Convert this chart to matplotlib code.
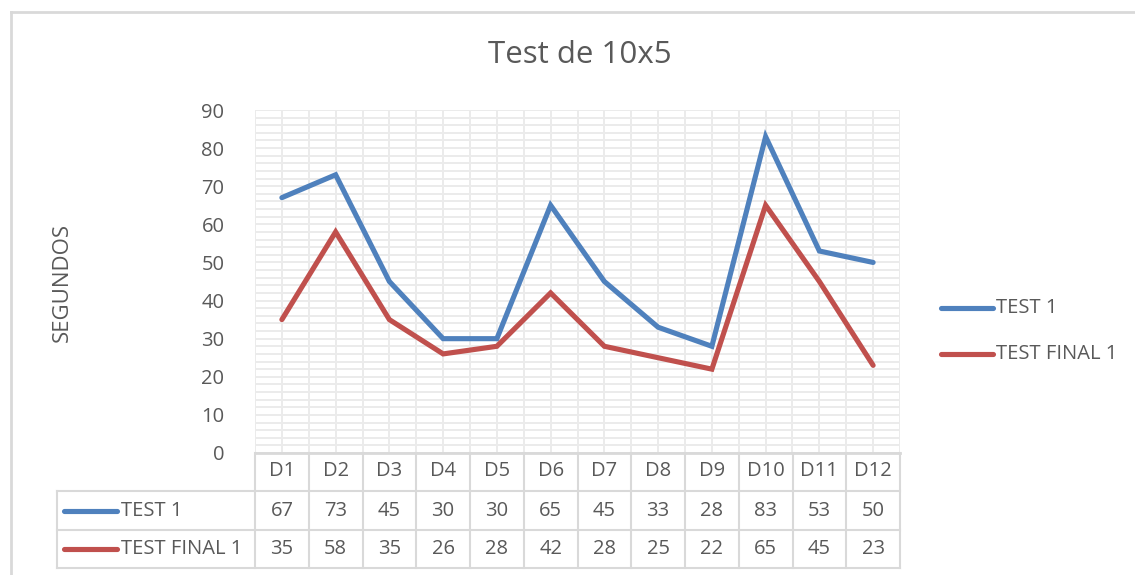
import matplotlib.pyplot as plt
import numpy as np
from matplotlib.lines import Line2D

plt.rcParams['font.family'] = ['Open Sans', 'DejaVu Sans']

categories = ['D1', 'D2', 'D3', 'D4', 'D5', 'D6', 'D7', 'D8', 'D9', 'D10', 'D11', 'D12']
test_1 = [67, 73, 45, 30, 30, 65, 45, 33, 28, 83, 53, 50]
test_final_1 = [35, 58, 35, 26, 28, 42, 28, 25, 22, 65, 45, 23]
series_names = ['TEST 1', 'TEST FINAL 1']
y_ticks = list(range(0, 100, 10))

BLUE = '#4F81BD'
RED = '#C0504D'
TXT = '#595959'
GRID = '#EBEBEB'
BORDER = '#D9D9D9'
FS = 14.5

W, H = 1135, 575
fig = plt.figure(figsize=(W / 100, H / 100), dpi=100)

def fx(px):
    return px / W

def fy(py):
    return 1 - py / H

# plot area in pixels
L, R, T, B = 255, 900, 110, 453
ax = fig.add_axes([fx(L), fy(B), fx(R) - fx(L), fy(T) - fy(B)])
n = len(categories)
x = np.arange(n)
ax.set_xlim(-0.5, n - 0.5)
ax.set_ylim(0, 90)

# gridlines (major + minor)
for v in np.arange(0, 90.1, 2):
    ax.axhline(v, color=GRID, lw=1.4, zorder=0)
for v in np.arange(-0.5, n - 0.4, 0.5):
    ax.axvline(v, color=GRID, lw=1.4, zorder=0)

ax.plot(x, test_1, color=BLUE, lw=3.7, solid_capstyle='round', solid_joinstyle='miter', zorder=3)
ax.plot(x, test_final_1, color=RED, lw=3.7, solid_capstyle='round', solid_joinstyle='miter', zorder=3)

ax.set_yticks(y_ticks)
ax.set_yticklabels([str(v) for v in y_ticks], fontsize=FS, color=TXT)
ax.tick_params(axis='y', length=0, pad=22)
ax.set_xticks([])
for s in ax.spines.values():
    s.set_visible(False)

# title and axis label
fig.text(fx(580), fy(55), 'Test de 10x5', ha='center', va='center', fontsize=22.5, color=TXT)
fig.text(fx(62), fy(282), 'SEGUNDOS', ha='center', va='center', rotation=90, fontsize=16, color=TXT)

# data table below the plot
cw = (R - L) / n
rows_y = [453, 491, 530, 568]
tl = 57
lines = []
lines.append(Line2D([fx(L), fx(R)], [fy(453), fy(453)], color=BORDER, lw=2))
for ry in rows_y[1:]:
    lines.append(Line2D([fx(tl), fx(R)], [fy(ry), fy(ry)], color=BORDER, lw=1.5))
lines.append(Line2D([fx(tl), fx(tl)], [fy(491), fy(568)], color=BORDER, lw=1.5))
for i in range(n + 1):
    xp = L + i * cw
    lines.append(Line2D([fx(xp), fx(xp)], [fy(453), fy(568)], color=BORDER, lw=1.5))
for ln in lines:
    fig.add_artist(ln)

for i, c in enumerate(categories):
    fig.text(fx(L + (i + 0.5) * cw), fy(471), c, ha='center', va='center', fontsize=FS, color=TXT)

table_rows = [(series_names[0], test_1, BLUE), (series_names[1], test_final_1, RED)]
for r, (name, vals, col) in enumerate(table_rows):
    yc = (rows_y[r + 1] + rows_y[r + 2]) / 2
    fig.add_artist(Line2D([fx(64), fx(117)], [fy(yc), fy(yc)], color=col, lw=3.7,
                          solid_capstyle='round'))
    fig.text(fx(121), fy(yc), name, ha='left', va='center', fontsize=FS, color=TXT)
    for i, v in enumerate(vals):
        fig.text(fx(L + (i + 0.5) * cw), fy(yc), str(v), ha='center', va='center',
                 fontsize=FS, color=TXT)

# legend on the right
for name, col, ly in [(series_names[0], BLUE, 308), (series_names[1], RED, 354)]:
    fig.add_artist(Line2D([fx(941), fx(993)], [fy(ly), fy(ly)], color=col, lw=3.7,
                          solid_capstyle='round'))
    fig.text(fx(996), fy(ly), name, ha='left', va='center', fontsize=FS, color=TXT)

# chart frame
fig.add_artist(Line2D([fx(11), fx(11)], [fy(12), 0], color=BORDER, lw=2))
fig.add_artist(Line2D([fx(11), fx(1134)], [fy(12), fy(12)], color=BORDER, lw=2))

plt.savefig('out.png', dpi=100)
